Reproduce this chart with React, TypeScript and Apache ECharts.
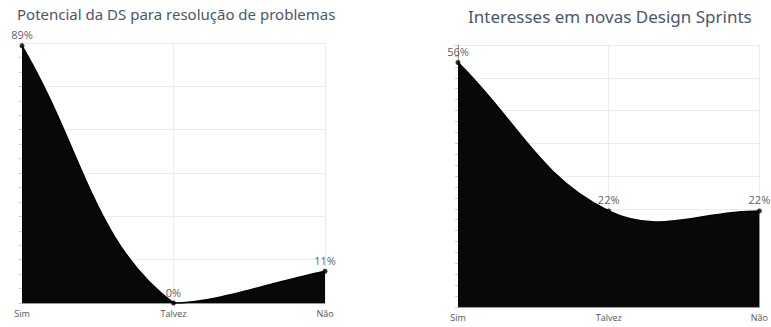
import React, { useEffect, useRef } from "react";
import * as echarts from "echarts";

// Survey answers shown on both panels
const categories = ["Sim", "Talvez", "Não"];

// Panel 1: Potencial da DS para resolução de problemas (%)
const potentialTitle = "Potencial da DS para resolução de problemas";
const potentialValues = [89, 0, 11];

// Panel 2: Interesses em novas Design Sprints (%)
const interestTitle = "Interesses em novas Design Sprints";
const interestValues = [56, 22, 22];

const TITLE_COLOR = "#4a5768";
const AXIS_COLOR = "#9a9a9a";
const GRID_COLOR = "#ececec";
const FILL = "#080808";
const TENSION = 0.4;

type Pt = [number, number];

// Cardinal-style spline with control points capped to the plot area
function splinePath(pts: Pt[], top: number, bottom: number): string {
  const n = pts.length;
  const clampY = (y: number) => Math.min(bottom, Math.max(top, y));
  const cps = pts.map((cur, i) => {
    const prev = i > 0 ? pts[i - 1] : cur;
    const next = i < n - 1 ? pts[i + 1] : cur;
    const d01 = Math.hypot(cur[0] - prev[0], cur[1] - prev[1]);
    const d12 = Math.hypot(next[0] - cur[0], next[1] - cur[1]);
    const sum = d01 + d12;
    const s01 = sum ? d01 / sum : 0;
    const s12 = sum ? d12 / sum : 0;
    const fa = TENSION * s01;
    const fb = TENSION * s12;
    const vx = next[0] - prev[0];
    const vy = next[1] - prev[1];
    return {
      before: [cur[0] - fa * vx, clampY(cur[1] - fa * vy)] as Pt,
      after: [cur[0] + fb * vx, clampY(cur[1] + fb * vy)] as Pt,
    };
  });
  let d = `M${pts[0][0]},${pts[0][1]}`;
  for (let i = 1; i < n; i++) {
    const c1 = cps[i - 1].after;
    const c2 = cps[i].before;
    d += ` C${c1[0]},${c1[1]} ${c2[0]},${c2[1]} ${pts[i][0]},${pts[i][1]}`;
  }
  return d;
}

function makeYAxis(gridIndex: number, max: number, interval: number) {
  return {
    type: "value" as const,
    gridIndex,
    min: 0,
    max,
    interval,
    axisLine: { show: true, lineStyle: { color: AXIS_COLOR, width: 1 } },
    axisTick: { show: true, length: 3, lineStyle: { color: "#c8c8c8" } },
    minorTick: { show: true, splitNumber: 3, length: 3, lineStyle: { color: "#d0d0d0" } },
    axisLabel: { show: false },
    splitLine: { show: true, lineStyle: { color: GRID_COLOR, width: 1 } },
  };
}

function makeXAxis(gridIndex: number) {
  return {
    type: "category" as const,
    gridIndex,
    data: categories,
    boundaryGap: false,
    axisLine: { show: true, lineStyle: { color: AXIS_COLOR, width: 1 } },
    axisTick: { show: false },
    axisLabel: {
      color: "#555",
      fontSize: 9,
      fontFamily: "Open Sans",
      margin: 6,
      interval: 0,
    },
    splitLine: { show: true, lineStyle: { color: GRID_COLOR, width: 1 } },
  };
}

// Filled curve drawn once from all points of the series
function makeAreaSeries(index: number, values: number[]) {
  return {
    type: "custom" as const,
    xAxisIndex: index,
    yAxisIndex: index,
    data: values.map((v, i) => [i, v]),
    encode: { x: 0, y: 1 },
    z: 2,
    silent: true,
    renderItem: (params: any, api: any) => {
      if (params.dataIndexInside !== 0) return null;
      const cs = params.coordSys;
      const top = cs.y;
      const bottom = cs.y + cs.height;
      const pts: Pt[] = [];
      for (let i = 0; i < params.dataInsideLength; i++) {
        const p = api.coord([api.value(0, i), api.value(1, i)]);
        pts.push([p[0], p[1]]);
      }
      const line = splinePath(pts, top, bottom);
      const last = pts[pts.length - 1];
      const area = `${line} L${last[0]},${bottom} L${pts[0][0]},${bottom} Z`;
      return {
        type: "group",
        children: [
          { type: "path", shape: { pathData: area }, style: { fill: FILL, stroke: "none" } },
          {
            type: "path",
            shape: { pathData: line },
            style: { fill: "none", stroke: "#000", lineWidth: 1.5 },
          },
        ],
      };
    },
  };
}

// Point markers with their percentage labels
function makePointSeries(index: number, values: number[]) {
  return {
    type: "scatter" as const,
    xAxisIndex: index,
    yAxisIndex: index,
    data: values,
    z: 3,
    symbol: "circle",
    symbolSize: 5,
    itemStyle: { color: "#000", borderWidth: 0 },
    label: {
      show: true,
      position: "top",
      distance: 3,
      color: "#2e2e2e",
      textBorderWidth: 0,
      textBorderColor: "transparent",
      fontSize: 11,
      fontFamily: "Open Sans",
      formatter: (p: any) => `${p.value}%`,
    },
  };
}

export default function App() {
  const ref = useRef<HTMLDivElement>(null);

  useEffect(() => {
    if (!ref.current) return;
    const chart = echarts.init(ref.current, undefined, { renderer: "svg" });
    chart.setOption({
      animation: false,
      backgroundColor: "#fff",
      title: [
        {
          text: potentialTitle,
          left: 12,
          top: 1,
          textStyle: {
            color: TITLE_COLOR,
            fontSize: 15,
            fontWeight: "normal",
            fontFamily: "Noto Sans",
          },
        },
        {
          text: interestTitle,
          left: 463,
          top: 3,
          textStyle: {
            color: TITLE_COLOR,
            fontSize: 17,
            fontWeight: "normal",
            fontFamily: "Noto Sans",
          },
        },
      ],
      grid: [
        { left: 22, right: 446, top: 43, bottom: 24, containLabel: false },
        { left: 458, right: 10, top: 45, bottom: 20, containLabel: false },
      ],
      xAxis: [makeXAxis(0), makeXAxis(1)],
      yAxis: [makeYAxis(0, 90, 15), makeYAxis(1, 60, 7.5)],
      series: [
        makeAreaSeries(0, potentialValues),
        makePointSeries(0, potentialValues),
        makeAreaSeries(1, interestValues),
        makePointSeries(1, interestValues),
      ],
    });
    return () => chart.dispose();
  }, []);

  return (
    <div
      ref={ref}
      style={{ position: "absolute", left: 0, top: 0, width: 771, height: 327 }}
    />
  );
}
